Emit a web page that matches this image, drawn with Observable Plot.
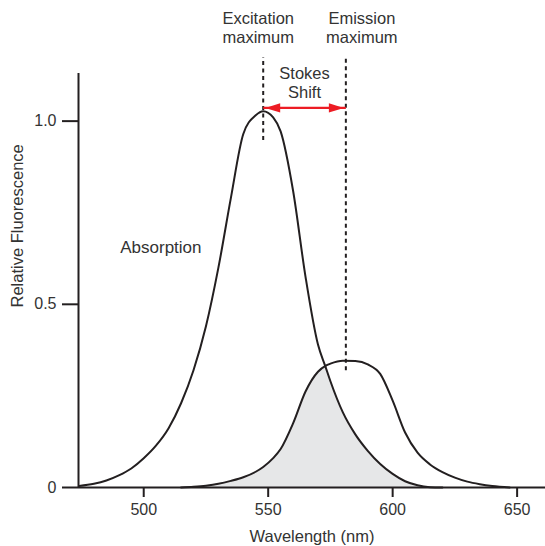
<!DOCTYPE html>
<html>
<head>
<meta charset="utf-8">
<script src="https://cdn.jsdelivr.net/npm/d3@7"></script>
<script src="https://cdn.jsdelivr.net/npm/@observablehq/plot@0.6"></script>
<style>
  html, body { margin: 0; padding: 0; background: #fff; }
  #chart svg { display: block; }
</style>
</head>
<body>
<div id="chart"></div>
<script>
// ---- data ----
const wavelength = [474, 480, 485, 490, 495, 500, 505, 510, 515, 520, 525, 530, 535, 540, 545, 548, 552, 555, 560, 565, 570, 573, 575, 580, 585, 590, 595, 600, 605, 610, 615, 620, 625, 630, 635, 640, 647];
const absorption = [0.004, 0.01, 0.019, 0.033, 0.052, 0.08, 0.115, 0.162, 0.23, 0.32, 0.44, 0.60, 0.79, 0.965, 1.016, 1.027, 1.01, 0.972, 0.81, 0.575, 0.39, 0.33, 0.29, 0.205, 0.145, 0.1, 0.064, 0.037, 0.017, 0.006, 0.001, 0, null, null, null, null, null];
const emission   = [null, null, null, null, null, null, null, null, 0, 0.002, 0.005, 0.01, 0.018, 0.028, 0.043, 0.056, 0.08, 0.105, 0.175, 0.262, 0.316, 0.332, 0.338, 0.346, 0.345, 0.336, 0.31, 0.237, 0.15, 0.095, 0.063, 0.042, 0.027, 0.016, 0.009, 0.004, 0];
const excitationMax = 548;
const emissionMax = 581.2;
const xTicks = [500, 550, 600, 650];
const yTicks = [0, 0.5, 1];
const yTickLabels = ["0", "0.5", "1.0"];
const xLabel = "Wavelength (nm)";
const yLabel = "Relative Fluorescence";

// ---- table built from the arrays ----
const rows = wavelength.map((w, i) => ({
  w,
  abs: absorption[i],
  em: emission[i],
  overlap: Math.min(absorption[i] ?? 0, emission[i] ?? 0)
}));
const overlapRows = rows.filter(d => d.abs != null && d.em != null);

const ink = "#231f20";
const textColor = "#333333";
const red = "#ed1c24";
const font = "'Liberation Sans', Arial, sans-serif";
const xDomain = [473.8, 661.4];

const arrowHead = {
  draw(ctx) {
    ctx.moveTo(0, 0);
    ctx.lineTo(-15, -4.6);
    ctx.lineTo(-15, 4.6);
    ctx.closePath();
  }
};

const chart = Plot.plot({
  width: 545,
  height: 546,
  marginLeft: 78,
  marginRight: 0,
  marginTop: 73,
  marginBottom: 59,
  style: { fontFamily: font, fontSize: "16px", color: textColor, background: "#fff" },
  x: { domain: xDomain },
  y: { domain: [0, 1.13] },
  marks: [
    // overlap fill
    Plot.areaY(overlapRows, { x: "w", y: "overlap", fill: "#e6e7e8", curve: "monotone-x" }),
    // curves
    Plot.line(rows, { x: "w", y: "abs", stroke: ink, strokeWidth: 2, curve: "monotone-x" }),
    Plot.line(rows, { x: "w", y: "em", stroke: ink, strokeWidth: 2, curve: "monotone-x" }),
    // axis lines
    Plot.ruleX([xDomain[0]], { y1: 0, y2: 1.13, stroke: ink, strokeWidth: 2 }),
    Plot.ruleY([0], { stroke: ink, strokeWidth: 2 }),
    // axes
    Plot.axisX({ ticks: xTicks, tickSize: 10, tickPadding: 6, tickFormat: d => String(d), stroke: ink, strokeWidth: 2, fill: textColor, fontSize: 16, label: null }),
    Plot.axisY({ ticks: yTicks, tickSize: 16, tickPadding: 6, tickFormat: d => yTickLabels[yTicks.indexOf(d)], stroke: ink, strokeWidth: 2, fill: textColor, fontSize: 16, label: null }),
    // axis labels
    Plot.text([xLabel], { frameAnchor: "bottom", dy: 49, text: d => d, fontSize: 16.5, fill: textColor, lineAnchor: "middle" }),
    Plot.text([yLabel], { frameAnchor: "left", dx: -60.5, dy: 27, rotate: -90, text: d => d, fontSize: 16.5, fill: textColor, lineAnchor: "middle" }),
    // dotted maxima lines
    Plot.ruleX([excitationMax], { y1: 0.947, y2: 1.174, stroke: ink, strokeWidth: 2, strokeDasharray: "4,3.5" }),
    Plot.ruleX([emissionMax], { y1: 0.319, y2: 1.174, stroke: ink, strokeWidth: 2, strokeDasharray: "4,3.5" }),
    // Stokes shift arrow
    Plot.link([{ a: excitationMax, b: emissionMax }], { x1: "a", x2: "b", y1: 1.036, y2: 1.036, stroke: red, strokeWidth: 2.2, insetLeft: 6, insetRight: 6 }),
    Plot.dot([emissionMax], { x: d => d, y: 1.036, dx: -2, symbol: arrowHead, fill: red, stroke: "none", r: 5 }),
    Plot.dot([excitationMax], { x: d => d, y: 1.036, dx: 2, rotate: 180, symbol: arrowHead, fill: red, stroke: "none", r: 5 }),
    // annotations
    Plot.text(["Excitation\nmaximum"], { x: excitationMax, y: 1.257, dx: -5, text: d => d, lineHeight: 1.16, fontSize: 16.5, fill: textColor, lineAnchor: "middle" }),
    Plot.text(["Emission\nmaximum"], { x: emissionMax, y: 1.257, dx: 16, text: d => d, lineHeight: 1.16, fontSize: 16.5, fill: textColor, lineAnchor: "middle" }),
    Plot.text(["Stokes\nShift"], { x: (excitationMax + emissionMax) / 2, y: 1.105, text: d => d, lineHeight: 1.14, fontSize: 16.5, fill: textColor, lineAnchor: "middle" }),
    Plot.text(["Absorption"], { x: 506.9, y: 0.655, text: d => d, fontSize: 17, fill: textColor, lineAnchor: "middle" })
  ]
});
document.getElementById("chart").appendChild(chart);
</script>
</body>
</html>
